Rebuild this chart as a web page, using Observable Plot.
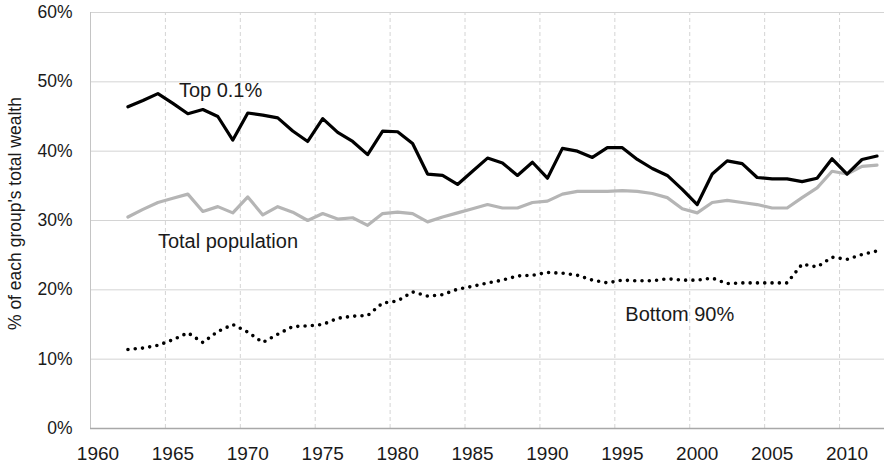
<!DOCTYPE html>
<html>
<head>
<meta charset="utf-8">
<script src="https://cdn.jsdelivr.net/npm/d3@7"></script>
<script src="https://cdn.jsdelivr.net/npm/@observablehq/plot@0.6"></script>
<style>
  html, body { margin: 0; padding: 0; background: #fff; }
  svg { display: block; }
</style>
</head>
<body>
<div id="chart"></div>
<script>
const years = d3.range(1962, 2013);
const top01 = [
  46.4,47.3,48.3,46.9,45.4,46.0,45.0,41.6,45.5,45.2,
  44.8,42.9,41.4,44.7,42.7,41.4,39.5,42.9,42.8,41.1,
  36.7,36.5,35.2,37.1,39.0,38.3,36.5,38.4,36.1,40.4,
  40.0,39.1,40.5,40.5,38.8,37.5,36.5,34.5,32.3,36.7,
  38.6,38.2,36.2,36.0,36.0,35.6,36.1,38.9,36.7,38.8,
  39.3
];
const totalPop = [
  30.5,31.6,32.6,33.2,33.8,31.3,32.0,31.1,33.4,30.8,
  32.0,31.2,30.0,31.0,30.2,30.4,29.3,31.0,31.2,31.0,
  29.8,30.5,31.1,31.7,32.3,31.8,31.8,32.6,32.8,33.8,
  34.2,34.2,34.2,34.3,34.2,33.9,33.3,31.7,31.1,32.6,
  32.9,32.6,32.3,31.8,31.8,33.3,34.7,37.1,36.7,37.8,
  38.0
];
const bottom90 = [
  11.4,11.6,12.0,12.8,13.8,12.4,14.0,15.0,13.9,12.4,
  13.6,14.7,14.8,15.0,15.9,16.2,16.3,18.1,18.4,19.7,
  19.1,19.3,20.1,20.5,21.0,21.4,22.0,22.1,22.5,22.4,
  22.1,21.4,21.0,21.4,21.3,21.3,21.6,21.4,21.4,21.7,
  20.9,21.0,21.0,21.0,21.0,23.7,23.3,24.7,24.4,25.1,
  25.6
];
const xTickYears = [1960,1965,1970,1975,1980,1985,1990,1995,2000,2005,2010];
const yTicks = [0,10,20,30,40,50,60];
const seriesLabels = [
  {text: "Top 0.1%", year: 1965.4, value: 48.8},
  {text: "Total population", year: 1964.0, value: 27.0},
  {text: "Bottom 90%", year: 1995.2, value: 16.5}
];
const yTitle = "% of each group's total wealth";

const toRows = (vals) => years.map((y, i) => ({year: y, value: vals[i]}));
const topRows = toRows(top01);
const totRows = toRows(totalPop);
const botRows = toRows(bottom90);

const FONT = "'Liberation Sans', Arial, sans-serif";

const chart = Plot.plot({
  width: 884,
  height: 463,
  marginLeft: 90,
  marginRight: 0,
  marginTop: 12,
  marginBottom: 35,
  style: {fontFamily: FONT, color: "#1a1a1a", background: "#fff"},
  x: {domain: [1959.5, 2012.5], axis: null},
  y: {domain: [0, 60], axis: null},
  marks: [
    Plot.ruleY(yTicks.filter(v => v > 0), {stroke: "#d4d4d4", strokeWidth: 1}),
    Plot.ruleX(xTickYears.slice(1).map(y => y - 0.5), {y1: 0, y2: 60, stroke: "#d4d4d4", strokeWidth: 1, strokeDasharray: "4 3"}),
    Plot.ruleX([1959.5], {y1: 0, y2: 60, stroke: "#c4c4c4", strokeWidth: 1}),
    Plot.ruleY([0], {stroke: "#a8a8a8", strokeWidth: 1.5}),
    Plot.line(totRows, {x: "year", y: "value", stroke: "#b5b5b5", strokeWidth: 3.2}),
    Plot.line(botRows, {x: "year", y: "value", stroke: "#000", strokeWidth: 3.6, strokeDasharray: "0 7.3", strokeLinecap: "round"}),
    Plot.line(topRows, {x: "year", y: "value", stroke: "#000", strokeWidth: 3.2}),
    Plot.axisX({ticks: xTickYears, tickSize: 0, tickPadding: 18, tickFormat: d => String(d), fontSize: 19, label: null}),
    Plot.axisY({ticks: yTicks, tickSize: 0, tickPadding: 18, tickFormat: d => d + "%", fontSize: 17.5, label: null}),
    Plot.text(seriesLabels, {x: "year", y: "value", text: "text", textAnchor: "start", lineAnchor: "middle", fontSize: 20, fill: "#1a1a1a"}),
    Plot.text([yTitle], {frameAnchor: "left", y: [31], text: d => d, dx: -75, rotate: -90, textAnchor: "middle", lineAnchor: "middle", fontSize: 17.5, fill: "#1a1a1a"})
  ]
});
document.getElementById("chart").appendChild(chart);
</script>
</body>
</html>
